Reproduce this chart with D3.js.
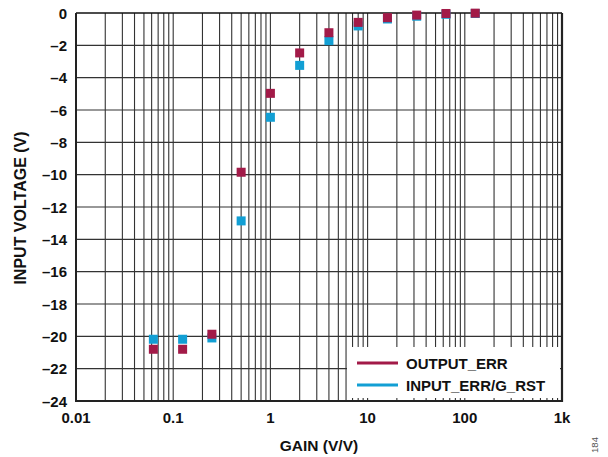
<!DOCTYPE html>
<html><head><meta charset="utf-8">
<script src="https://cdn.jsdelivr.net/npm/d3@7"></script>
<style>body{margin:0;background:#fff}svg{display:block}</style>
</head><body><svg id="c" width="608" height="457"></svg>
<script>
const gains = [0.0625, 0.125, 0.25, 0.5, 1, 2, 4, 8, 16, 32, 64, 128];
const outputErr = [-20.8, -20.8, -19.87, -9.85, -4.97, -2.47, -1.22, -0.58, -0.29, -0.13, -0.03, -0.01];
const inputErr = [-20.18, -20.18, -20.1, -12.86, -6.45, -3.24, -1.71, -0.8, -0.37, -0.2, -0.08, -0.03];
const xTickValues = [0.01, 0.1, 1, 10, 100, 1000];
const xTickLabels = ["0.01", "0.1", "1", "10", "100", "1k"];
const yTickValues = [0, -2, -4, -6, -8, -10, -12, -14, -16, -18, -20, -22, -24];
const seriesNames = ["OUTPUT_ERR", "INPUT_ERR/G_RST"];
const seriesColors = ["#A21A48", "#129FD4"];

const svg = d3.select("#c");
const L = 76, R = 562, T = 13, B = 401;
const x = d3.scaleLog().domain([0.01, 1000]).range([L, R]);
const y = d3.scaleLinear().domain([-24, 0]).range([B, T]);
const font = "'Liberation Sans', Arial, sans-serif";

// minor + major vertical grid
const vgrid = [];
for (let e = -2; e < 3; e++) for (let m = 1; m < 10; m++) vgrid.push(m * Math.pow(10, e));
svg.append("g").selectAll("line").data(vgrid.filter(v => v > 0.01)).join("line")
  .attr("x1", d => x(d)).attr("x2", d => x(d)).attr("y1", T).attr("y2", B)
  .attr("stroke", "#333").attr("stroke-width", 1.1);
svg.append("g").selectAll("line").data(yTickValues.filter(v => v > -24 && v < 0)).join("line")
  .attr("x1", L).attr("x2", R).attr("y1", d => y(d)).attr("y2", d => y(d))
  .attr("stroke", "#333").attr("stroke-width", 1.1);

// legend background
svg.append("rect").attr("x", 347).attr("y", 347).attr("width", 213).attr("height", 51).attr("fill", "#fff");

// frame
svg.append("line").attr("x1", L).attr("x2", R).attr("y1", T).attr("y2", T).attr("stroke", "#111").attr("stroke-width", 1.5);
svg.append("line").attr("x1", L).attr("x2", R + 1).attr("y1", B).attr("y2", B).attr("stroke", "#222").attr("stroke-width", 2.2);
svg.append("line").attr("x1", L).attr("x2", L).attr("y1", T).attr("y2", B + 1).attr("stroke", "#222").attr("stroke-width", 2);
svg.append("line").attr("x1", R).attr("x2", R).attr("y1", T).attr("y2", B + 1).attr("stroke", "#222").attr("stroke-width", 2.2);

// points
const sq = 9;
const series = [inputErr, outputErr];
const cols = [seriesColors[1], seriesColors[0]];
series.forEach((vals, i) => {
  svg.append("g").selectAll("rect").data(gains.map((g, j) => [g, vals[j]])).join("rect")
    .attr("x", d => x(d[0]) - sq / 2).attr("y", d => y(d[1]) - sq / 2)
    .attr("width", sq).attr("height", sq).attr("fill", cols[i]);
});

// axis labels
const xl = svg.append("g").attr("font-family", font).attr("font-weight", "bold").attr("font-size", 15).attr("fill", "#111");
xl.selectAll("text").data(xTickValues).join("text")
  .attr("x", d => x(d)).attr("y", 423).attr("text-anchor", "middle").text((d, i) => xTickLabels[i]);
const yl = svg.append("g").attr("font-family", font).attr("font-weight", "bold").attr("font-size", 15).attr("fill", "#111");
yl.selectAll("text").data(yTickValues).join("text")
  .attr("x", 67).attr("y", d => y(d) + 5.5).attr("text-anchor", "end")
  .text(d => d === 0 ? "0" : "\u2013" + Math.abs(d));

svg.append("text").attr("x", 319).attr("y", 451).attr("text-anchor", "middle")
  .attr("font-family", font).attr("font-weight", "bold").attr("font-size", 15.5).attr("fill", "#111").text("GAIN (V/V)");
svg.append("text").attr("transform", "translate(26,208) rotate(-90)").attr("text-anchor", "middle")
  .attr("font-family", font).attr("font-weight", "bold").attr("font-size", 16).attr("fill", "#111").text("INPUT VOLTAGE (V)");
svg.append("text").attr("transform", "translate(598,445) rotate(-90)").attr("text-anchor", "middle")
  .attr("font-family", font).attr("font-size", 9.5).attr("fill", "#555").text("184");

// legend
const lg = svg.append("g");
seriesNames.forEach((n, i) => {
  const yy = 363 + i * 22;
  lg.append("line").attr("x1", 357).attr("x2", 398).attr("y1", yy).attr("y2", yy)
    .attr("stroke", seriesColors[i]).attr("stroke-width", 3);
  lg.append("text").attr("x", 406).attr("y", yy + 5.5).attr("font-family", font)
    .attr("font-weight", "bold").attr("font-size", 15).attr("fill", "#111").text(n);
});
</script></body></html>
